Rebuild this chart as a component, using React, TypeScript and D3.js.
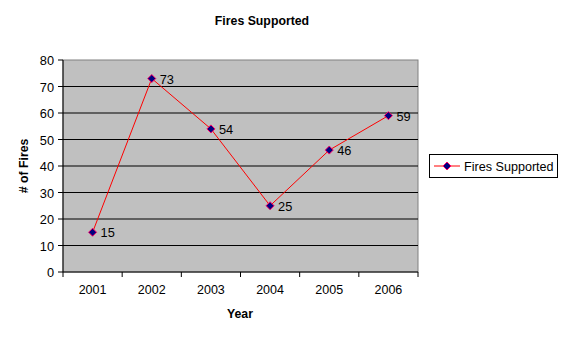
import React from "react";
import * as d3 from "d3";

const years = ["2001", "2002", "2003", "2004", "2005", "2006"];
const fires = [15, 73, 54, 25, 46, 59];
const yTicks = [0, 10, 20, 30, 40, 50, 60, 70, 80];
const seriesName = "Fires Supported";

export default function App() {
  const W = 566, H = 338;
  const left = 63, right = 418, top = 60, bottom = 272;
  const x = d3.scaleBand<string>().domain(years).range([left, right]);
  const y = d3.scaleLinear().domain([0, 80]).range([bottom, top]);
  const line = d3
    .line<number>()
    .x((_, i) => (x(years[i]) as number) + x.bandwidth() / 2)
    .y((d) => y(d));
  const font = "Arial, 'Liberation Sans', sans-serif";
  const diamond = (cx: number, cy: number, r = 3.5) =>
    `M${cx},${cy - r}L${cx + r},${cy}L${cx},${cy + r}L${cx - r},${cy}Z`;
  return (
    <svg width={W} height={H} style={{ position: "absolute", left: 0, top: 0 }} fontFamily={font}>
      <rect x={0} y={0} width={W} height={H} fill="#fff" />
      <text x={262} y={25} textAnchor="middle" fontSize={12.3} fontWeight="bold">
        Fires Supported
      </text>
      <rect x={left} y={top} width={right - left} height={bottom - top} fill="#c0c0c0" stroke="#808080" />
      {yTicks.map((t) => (
        <g key={t}>
          {t > 0 && t < 80 && (
            <line x1={left} x2={right} y1={y(t)} y2={y(t)} stroke="#000" />
          )}
          <line x1={left - 5} x2={left} y1={y(t)} y2={y(t)} stroke="#000" />
          <text x={left - 9} y={y(t) + 5} textAnchor="end" fontSize={12.8}>
            {t}
          </text>
        </g>
      ))}
      <line x1={left} x2={left} y1={top} y2={bottom} stroke="#000" />
      <line x1={left} x2={right} y1={bottom} y2={bottom} stroke="#000" />
      {years.map((yr, i) => (
        <g key={yr}>
          <line x1={x(yr) as number} x2={x(yr) as number} y1={bottom} y2={bottom + 5} stroke="#000" />
          <text x={(x(yr) as number) + x.bandwidth() / 2} y={bottom + 22} textAnchor="middle" fontSize={12.5}>
            {yr}
          </text>
        </g>
      ))}
      <line x1={right} x2={right} y1={bottom} y2={bottom + 5} stroke="#000" />
      <path d={line(fires) || ""} fill="none" stroke="#ff0000" strokeWidth={1} />
      {fires.map((v, i) => {
        const cx = (x(years[i]) as number) + x.bandwidth() / 2;
        const cy = y(v);
        return (
          <g key={i}>
            <path d={diamond(cx, cy, 4)} fill="#000080" stroke="#ff0066" strokeWidth={1} />
            <text x={cx + 8} y={cy + 5} fontSize={12.8}>
              {v}
            </text>
          </g>
        );
      })}
      <text x={240} y={318} textAnchor="middle" fontSize={12.3} fontWeight="bold">
        Year
      </text>
      <text transform={`translate(28,${(top + bottom) / 2}) rotate(-90)`} textAnchor="middle" fontSize={12.3} fontWeight="bold">
        # of Fires
      </text>
      <rect x={429.5} y={154.5} width={128} height={23} fill="#fff" stroke="#000" />
      <line x1={434} x2={460} y1={166} y2={166} stroke="#ff0000" />
      <path d={diamond(447, 166, 4)} fill="#000080" stroke="#ff0066" />
      <text x={464} y={170.5} fontSize={12.6}>
        {seriesName}
      </text>
    </svg>
  );
}
